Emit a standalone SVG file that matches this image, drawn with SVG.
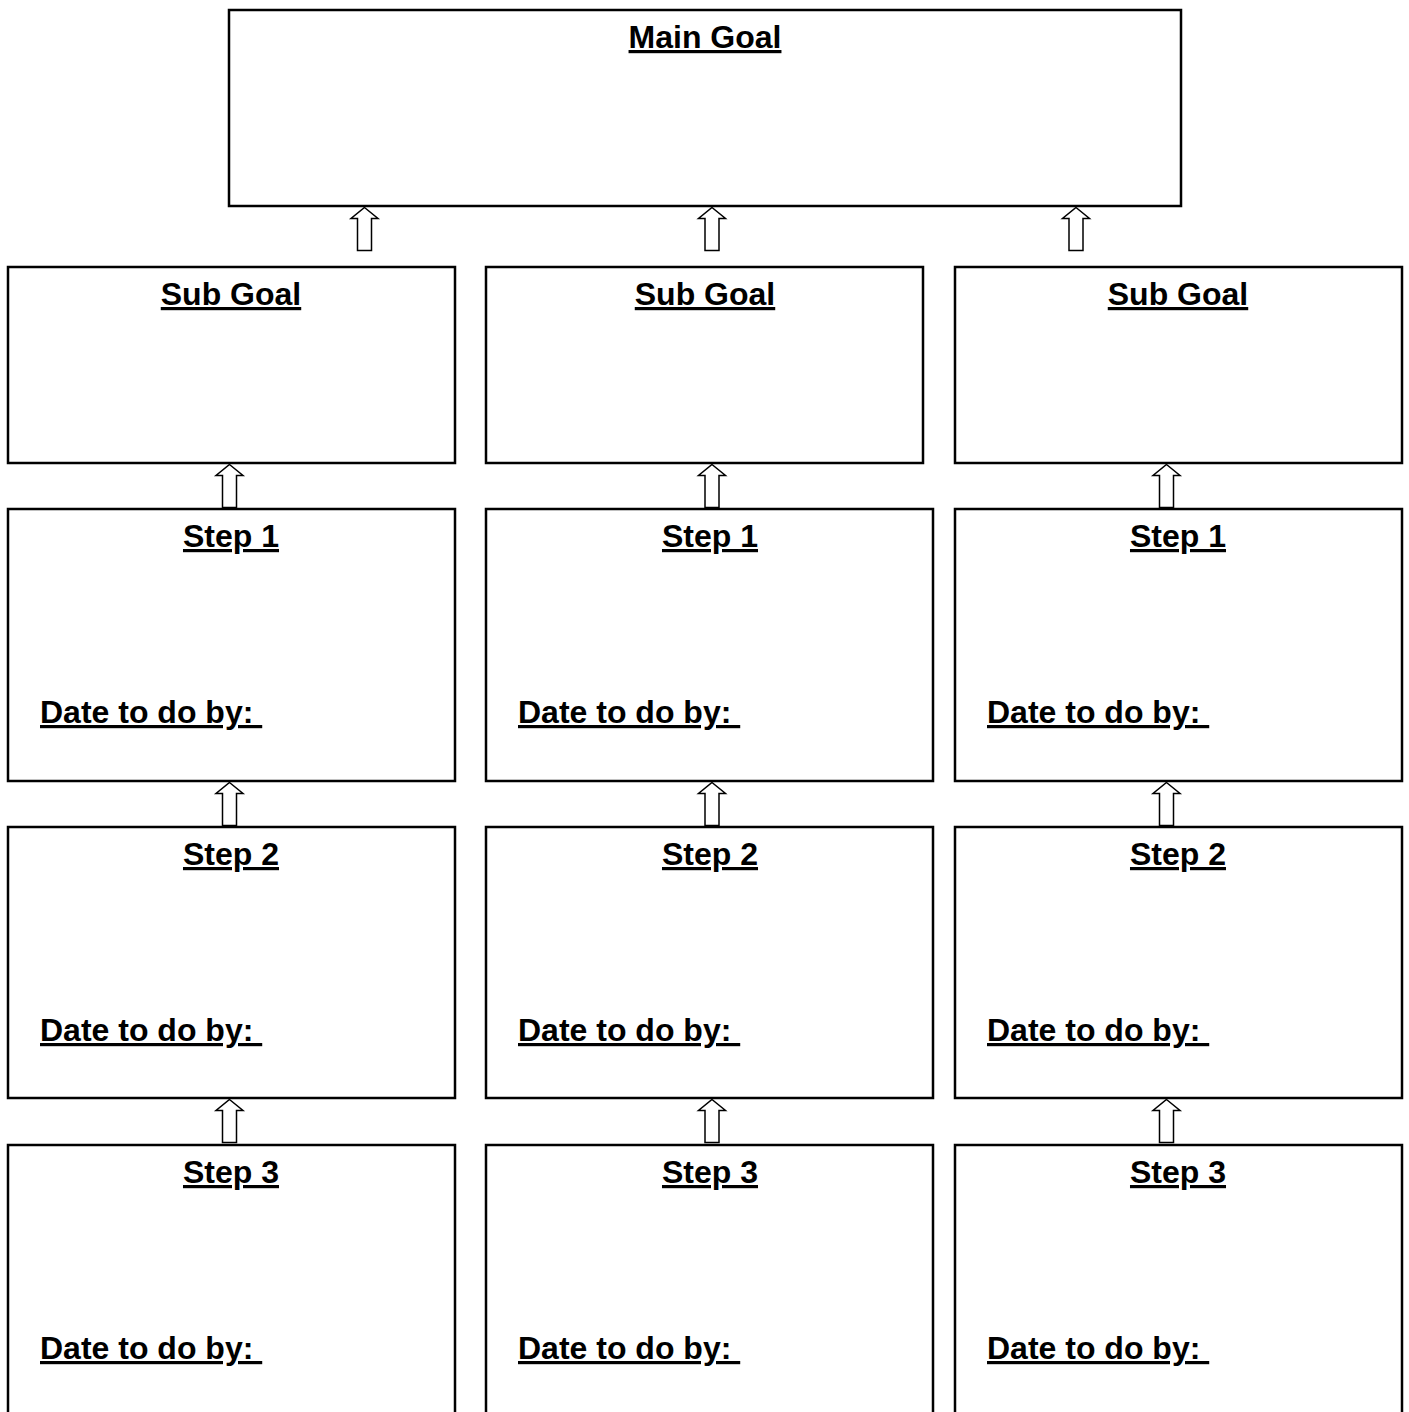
<svg xmlns="http://www.w3.org/2000/svg" xmlns:xlink="http://www.w3.org/1999/xlink" width="1409" height="1412" viewBox="0 0 1409 1412">
<style>
.box{fill:#fff;stroke:#000;stroke-width:2.5}
.t{font-family:"Liberation Sans",Arial,sans-serif;font-weight:bold;font-size:32px;text-decoration:underline;fill:#000}
.c{text-anchor:middle}
.arr{fill:#fff;stroke:#000;stroke-width:1.5;stroke-linejoin:miter}
</style>
<defs>
<path id="up" d="M0,0 L13.5,11 L7,11 L7,43 L-7,43 L-7,11 L-13.5,11 Z"/>
</defs>
<rect width="1409" height="1412" fill="#fff"/>
<g id="main-goal"><rect class="box" x="229" y="10" width="952" height="196"/><text class="t c" x="705" y="48">Main Goal</text></g>
<g id="sub-goal-1"><rect class="box" x="8" y="267" width="447" height="196"/><text class="t c" x="231" y="305">Sub Goal</text></g>
<g id="sub-goal-2"><rect class="box" x="486" y="267" width="437" height="196"/><text class="t c" x="705" y="305">Sub Goal</text></g>
<g id="sub-goal-3"><rect class="box" x="955" y="267" width="447" height="196"/><text class="t c" x="1178" y="305">Sub Goal</text></g>
<g id="c1-step1"><rect class="box" x="8" y="509" width="447" height="272"/><text class="t c" x="231" y="547">Step 1</text><text class="t" x="40" y="723" xml:space="preserve">Date to do by: </text></g>
<g id="c2-step1"><rect class="box" x="486" y="509" width="447" height="272"/><text class="t c" x="710" y="547">Step 1</text><text class="t" x="518" y="723" xml:space="preserve">Date to do by: </text></g>
<g id="c3-step1"><rect class="box" x="955" y="509" width="447" height="272"/><text class="t c" x="1178" y="547">Step 1</text><text class="t" x="987" y="723" xml:space="preserve">Date to do by: </text></g>
<g id="c1-step2"><rect class="box" x="8" y="827" width="447" height="271"/><text class="t c" x="231" y="865">Step 2</text><text class="t" x="40" y="1041" xml:space="preserve">Date to do by: </text></g>
<g id="c2-step2"><rect class="box" x="486" y="827" width="447" height="271"/><text class="t c" x="710" y="865">Step 2</text><text class="t" x="518" y="1041" xml:space="preserve">Date to do by: </text></g>
<g id="c3-step2"><rect class="box" x="955" y="827" width="447" height="271"/><text class="t c" x="1178" y="865">Step 2</text><text class="t" x="987" y="1041" xml:space="preserve">Date to do by: </text></g>
<g id="c1-step3"><rect class="box" x="8" y="1145" width="447" height="300"/><text class="t c" x="231" y="1183">Step 3</text><text class="t" x="40" y="1359" xml:space="preserve">Date to do by: </text></g>
<g id="c2-step3"><rect class="box" x="486" y="1145" width="447" height="300"/><text class="t c" x="710" y="1183">Step 3</text><text class="t" x="518" y="1359" xml:space="preserve">Date to do by: </text></g>
<g id="c3-step3"><rect class="box" x="955" y="1145" width="447" height="300"/><text class="t c" x="1178" y="1183">Step 3</text><text class="t" x="987" y="1359" xml:space="preserve">Date to do by: </text></g>
<g id="connectors" class="arr">
<use xlink:href="#up" href="#up" transform="translate(364.5,207.5)"/>
<use xlink:href="#up" href="#up" transform="translate(712,207.5)"/>
<use xlink:href="#up" href="#up" transform="translate(1076,207.5)"/>
<use xlink:href="#up" href="#up" transform="translate(229.5,464.5)"/>
<use xlink:href="#up" href="#up" transform="translate(712,464.5)"/>
<use xlink:href="#up" href="#up" transform="translate(1166.5,464.5)"/>
<use xlink:href="#up" href="#up" transform="translate(229.5,782.5)"/>
<use xlink:href="#up" href="#up" transform="translate(712,782.5)"/>
<use xlink:href="#up" href="#up" transform="translate(1166.5,782.5)"/>
<use xlink:href="#up" href="#up" transform="translate(229.5,1099.5)"/>
<use xlink:href="#up" href="#up" transform="translate(712,1099.5)"/>
<use xlink:href="#up" href="#up" transform="translate(1166.5,1099.5)"/>
</g>
</svg>
